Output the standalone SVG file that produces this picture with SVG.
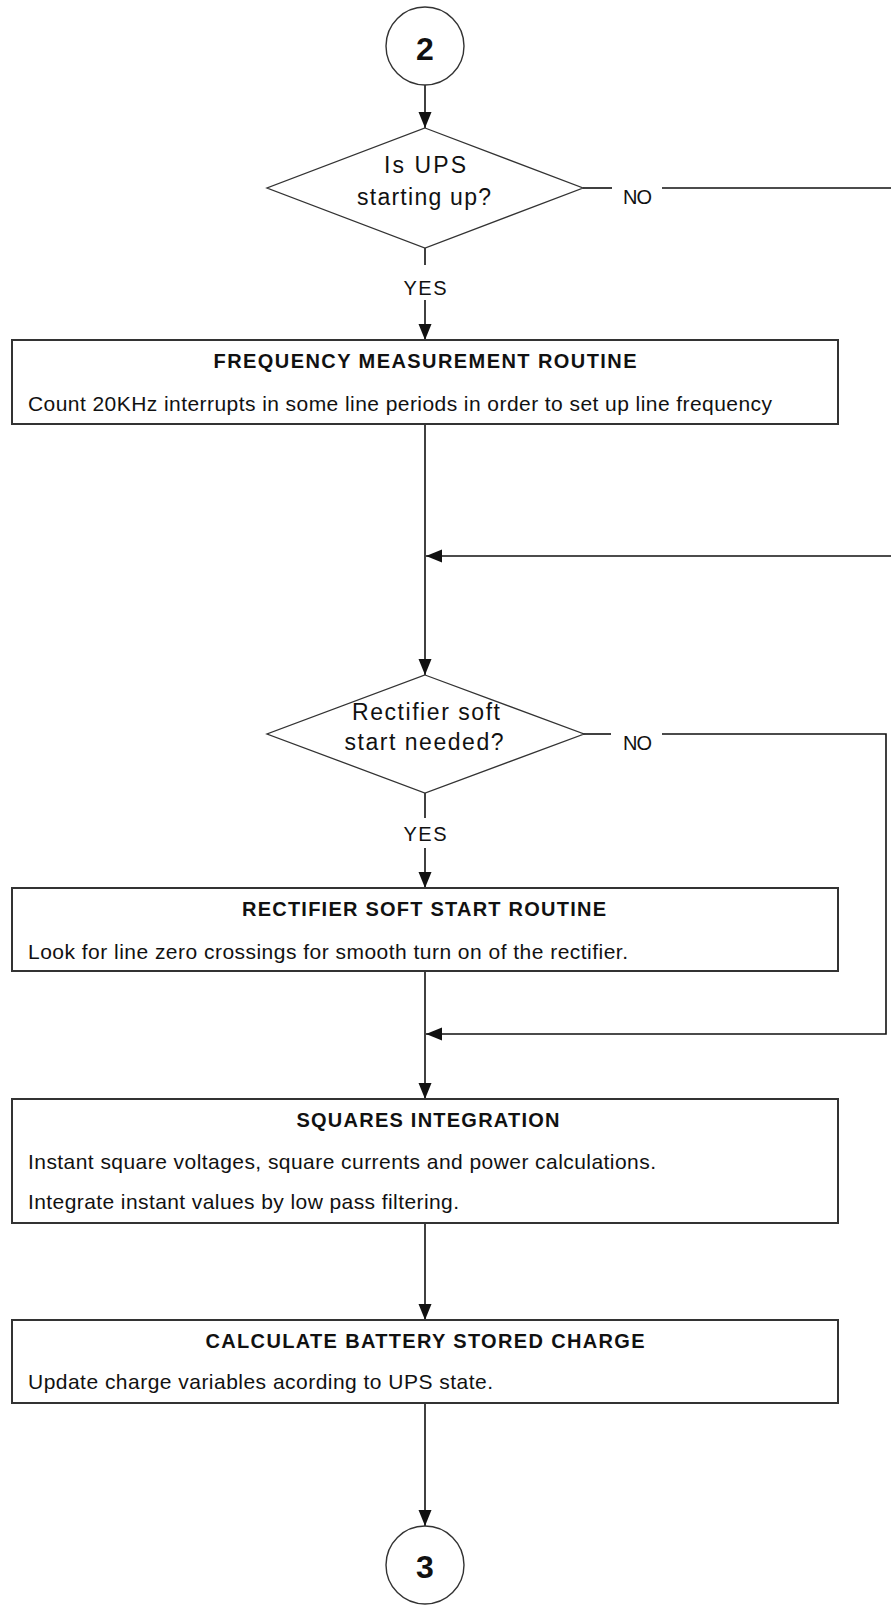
<svg xmlns="http://www.w3.org/2000/svg" width="891" height="1617" viewBox="0 0 891 1617">
<style>
  .bg{fill:#fff}
  .term{fill:#fff;stroke:#333;stroke-width:1.4}
  .dec{fill:#fff;stroke:#333;stroke-width:1.3}
  .box{fill:#fff;stroke:#333;stroke-width:2}
  .conn{fill:none;stroke:#111;stroke-width:1.6}
  .num{font-family:"Liberation Sans",Arial,sans-serif;font-size:32px;font-weight:bold;fill:#111;text-anchor:middle}
  .q{font-family:"Liberation Sans",Arial,sans-serif;font-size:23px;fill:#111;text-anchor:middle}
  .lbl{font-family:"Liberation Sans",Arial,sans-serif;font-size:20px;fill:#111}
  .ttl{font-family:"Liberation Sans",Arial,sans-serif;font-size:20px;font-weight:bold;fill:#111;text-anchor:middle}
  .body{font-family:"Liberation Sans",Arial,sans-serif;font-size:21px;fill:#111}
</style>
<defs>
  <marker id="arr" markerUnits="userSpaceOnUse" viewBox="0 0 16 14" refX="16" refY="7" markerWidth="16" markerHeight="14" orient="auto">
    <path d="M0,0.5 L16,7 L0,13.5 z" fill="#111"/>
  </marker>
</defs>
<rect class="bg" x="0" y="0" width="891" height="1617"/>

<g id="connectors">
  <line class="conn" x1="425" y1="85" x2="425" y2="128" marker-end="url(#arr)"/>
  <line class="conn" x1="425" y1="248" x2="425" y2="265"/>
  <line class="conn" x1="425" y1="300" x2="425" y2="340" marker-end="url(#arr)"/>
  <line class="conn" x1="583" y1="188" x2="612" y2="188"/>
  <line class="conn" x1="662" y1="188" x2="891" y2="188"/>
  <line class="conn" x1="425" y1="424" x2="425" y2="675" marker-end="url(#arr)"/>
  <line class="conn" x1="891" y1="556" x2="426" y2="556" marker-end="url(#arr)"/>
  <line class="conn" x1="425" y1="793" x2="425" y2="818"/>
  <line class="conn" x1="425" y1="848" x2="425" y2="888" marker-end="url(#arr)"/>
  <line class="conn" x1="583" y1="734" x2="611" y2="734"/>
  <polyline class="conn" points="662,734 886,734 886,1034 426,1034" marker-end="url(#arr)"/>
  <line class="conn" x1="425" y1="971" x2="425" y2="1099" marker-end="url(#arr)"/>
  <line class="conn" x1="425" y1="1223" x2="425" y2="1320" marker-end="url(#arr)"/>
  <line class="conn" x1="425" y1="1403" x2="425" y2="1526" marker-end="url(#arr)"/>
  <text class="lbl" x="425" y="295" text-anchor="middle" font-size="21" textLength="43" lengthAdjust="spacing">YES</text>
  <text class="lbl" x="623" y="204" textLength="29" lengthAdjust="spacing">NO</text>
  <text class="lbl" x="425" y="841" text-anchor="middle" font-size="21" textLength="43" lengthAdjust="spacing">YES</text>
  <text class="lbl" x="623" y="750" textLength="29" lengthAdjust="spacing">NO</text>
</g>

<g id="start2">
  <circle class="term" cx="425" cy="46" r="39"/>
  <text class="num" x="425" y="60">2</text>
</g>

<g id="dec-ups-starting">
  <polygon class="dec" points="425,128 583,188 425,248 267,188"/>
  <text class="q" x="425" y="173" textLength="82" lengthAdjust="spacing">Is UPS</text>
  <text class="q" x="424" y="205" textLength="134" lengthAdjust="spacing">starting up?</text>
</g>

<g id="freq-measurement">
  <rect class="box" x="12" y="340" width="826" height="84"/>
  <text class="ttl" x="425" y="368" textLength="423" lengthAdjust="spacing">FREQUENCY MEASUREMENT ROUTINE</text>
  <text class="body" x="28" y="411" textLength="744" lengthAdjust="spacing">Count 20KHz interrupts in some line periods in order to set up line frequency</text>
</g>

<g id="dec-soft-start">
  <polygon class="dec" points="425,675 584,734 425,793 267,734"/>
  <text class="q" x="426" y="720" textLength="148" lengthAdjust="spacing">Rectifier soft</text>
  <text class="q" x="424" y="750" textLength="159" lengthAdjust="spacing">start needed?</text>
</g>

<g id="soft-start-routine">
  <rect class="box" x="12" y="888" width="826" height="83"/>
  <text class="ttl" x="424" y="916" textLength="364" lengthAdjust="spacing">RECTIFIER SOFT START ROUTINE</text>
  <text class="body" x="28" y="959" textLength="600" lengthAdjust="spacing">Look for line zero crossings for smooth turn on of the rectifier.</text>
</g>

<g id="squares-integration">
  <rect class="box" x="12" y="1099" width="826" height="124"/>
  <text class="ttl" x="428" y="1127" textLength="263" lengthAdjust="spacing">SQUARES INTEGRATION</text>
  <text class="body" x="28" y="1169" textLength="628" lengthAdjust="spacing">Instant square voltages, square currents and power calculations.</text>
  <text class="body" x="28" y="1209" textLength="431" lengthAdjust="spacing">Integrate instant values by low pass filtering.</text>
</g>

<g id="battery-charge">
  <rect class="box" x="12" y="1320" width="826" height="83"/>
  <text class="ttl" x="425" y="1348" textLength="439" lengthAdjust="spacing">CALCULATE BATTERY STORED CHARGE</text>
  <text class="body" x="28" y="1389" textLength="465" lengthAdjust="spacing">Update charge variables acording to UPS state.</text>
</g>

<g id="end3">
  <circle class="term" cx="425" cy="1565" r="39"/>
  <text class="num" x="425" y="1578">3</text>
</g>
</svg>
